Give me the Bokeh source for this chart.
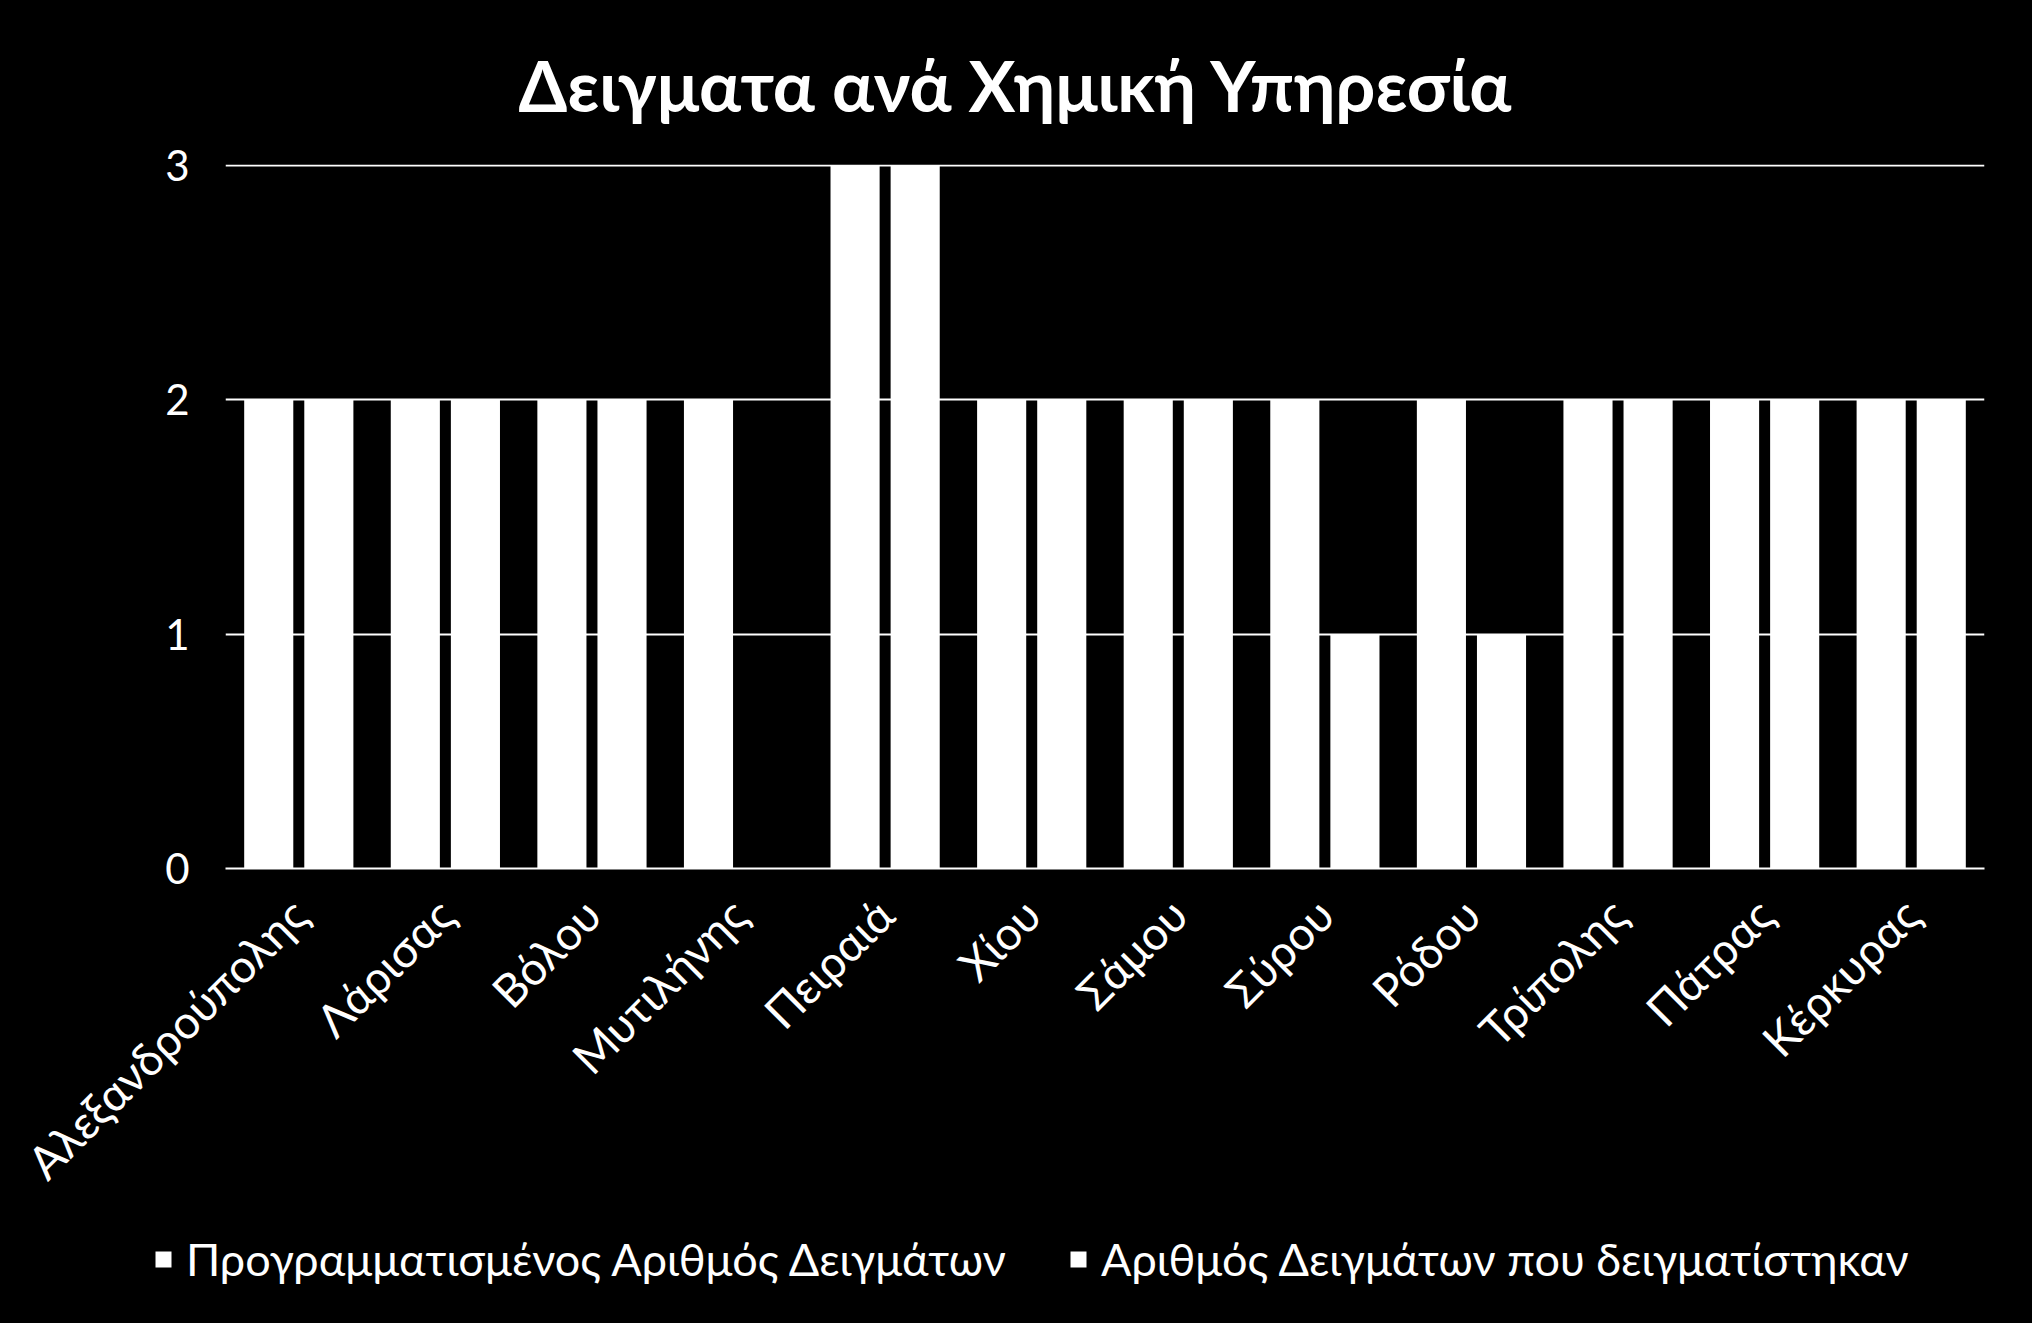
import math
from bokeh.plotting import figure
from bokeh.models import ColumnDataSource, Legend, LegendItem, FactorRange
from bokeh.layouts import column
from bokeh.transform import dodge
from bokeh.embed import file_html
from bokeh.resources import INLINE

categories = ["Αλεξανδρούπολης", "Λάρισας", "Βόλου", "Μυτιλήνης", "Πειραιά", "Χίου",
              "Σάμου", "Σύρου", "Ρόδου", "Τρίπολης", "Πάτρας", "Κέρκυρας"]
planned = [2, 2, 2, 2, 3, 2, 2, 2, 2, 2, 2, 2]
sampled = [2, 2, 2, 0, 3, 2, 2, 1, 1, 2, 2, 2]
series_names = ["Προγραμματισμένος Αριθμός Δειγμάτων", "Αριθμός Δειγμάτων που δειγματίστηκαν"]
title_text = "Δειγματα ανά Χημική Υπηρεσία"

FONT = "Lato"

src = ColumnDataSource(dict(cat=categories, planned=planned, sampled=sampled))

p = figure(x_range=FactorRange(*categories, range_padding=0), y_range=(0, 3.005),
           frame_width=1759, frame_height=704,
           min_border_left=225, min_border_right=48, min_border_top=164, min_border_bottom=340,
           output_backend="svg", toolbar_location=None,
           background_fill_color="black", border_fill_color="black")
p.outline_line_color = None
p.frame_align = False

p.title.text = title_text
p.title.align = "left"
p.title.offset = 293
p.title.text_color = "white"
p.title.text_font = FONT
p.title.text_font_style = "bold"
p.title.text_font_size = "70px"
p.title.standoff = 76

r1 = p.vbar(x=dodge("cat", -0.205, range=p.x_range), top="planned", width=0.335, source=src,
            fill_color="white", line_color=None)
r2 = p.vbar(x=dodge("cat", 0.205, range=p.x_range), top="sampled", width=0.335, source=src,
            fill_color="white", line_color=None)

p.xgrid.grid_line_color = None
p.ygrid.grid_line_color = "white"
p.ygrid.grid_line_width = 2
p.yaxis.ticker = [0, 1, 2, 3]

p.yaxis.axis_line_color = None
p.yaxis.major_tick_line_color = None
p.yaxis.minor_tick_line_color = None
p.yaxis.major_label_text_color = "white"
p.yaxis.major_label_text_font = FONT
p.yaxis.major_label_text_font_size = "42px"
p.yaxis.major_label_standoff = 30

p.xaxis.axis_line_color = "white"
p.xaxis.axis_line_width = 2
p.xaxis.major_tick_line_color = None
p.xaxis.minor_tick_line_color = None
p.xaxis.major_label_text_color = "white"
p.xaxis.major_label_text_font = FONT
p.xaxis.major_label_text_font_size = "46px"
p.xaxis.major_label_orientation = math.pi / 4
p.xaxis.major_label_standoff = 32

# Legend strip below the chart (same data source; bars lie outside its view range)
p2 = figure(width=2032, height=112, x_range=FactorRange(*categories), y_range=(10, 11),
            min_border=0, output_backend="svg", toolbar_location=None,
            background_fill_color="black", border_fill_color="black")
p2.outline_line_color = None
p2.frame_align = False
p2.axis.visible = False
p2.grid.grid_line_color = None
l1 = p2.vbar(x="cat", top="planned", width=0.3, source=src, fill_color="white", line_color=None)
l2 = p2.vbar(x="cat", top="sampled", width=0.3, source=src, fill_color="white", line_color=None)

legend = Legend(items=[LegendItem(label=series_names[0], renderers=[l1]),
                       LegendItem(label=series_names[1], renderers=[l2])],
                orientation="horizontal", location=(153, 37),
                background_fill_alpha=0, border_line_color=None,
                label_text_color="white", label_text_font=FONT, label_text_font_size="45px",
                glyph_width=20, glyph_height=20, label_standoff=13, spacing=62,
                padding=0, margin=0)
p2.add_layout(legend, "center")

layout = column(p, p2, spacing=0, styles={"background-color": "black"})
open("out.html", "w").write(file_html(layout, INLINE))
